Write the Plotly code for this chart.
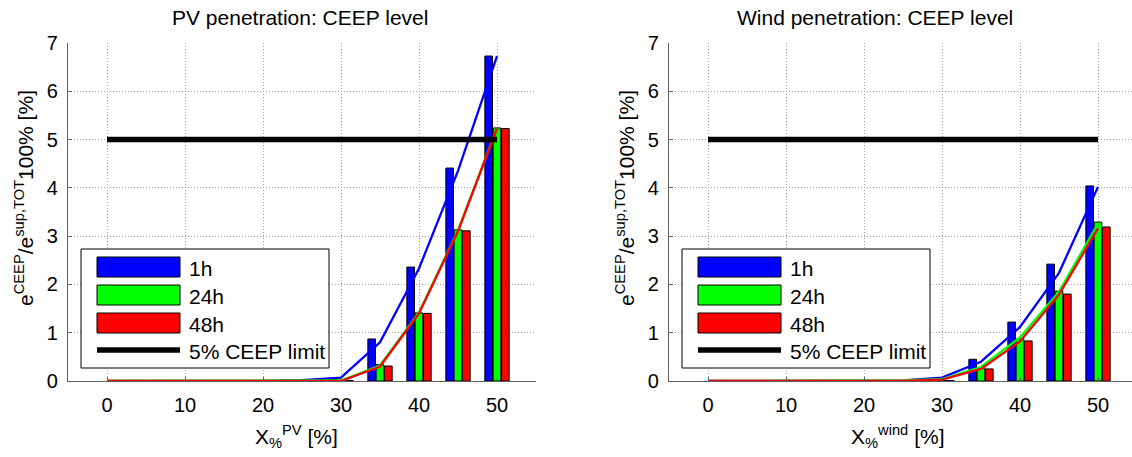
import plotly.graph_objects as go

W, H = 1132, 457

# ---------------- data ----------------
line_x = [0, 5, 10, 15, 20, 25, 30, 35, 40, 45, 50]
bar_x = [30, 35, 40, 45, 50]

pv_bar_1h = [0.03, 0.87, 2.36, 4.41, 6.73]
pv_bar_24h = [0.01, 0.34, 1.41, 3.13, 5.24]
pv_bar_48h = [0.01, 0.31, 1.40, 3.11, 5.23]
pv_line_1h = [0, 0, 0, 0, 0, 0.02, 0.07, 0.80, 2.33, 4.35, 6.73]
pv_line_24h = [0, 0, 0, 0, 0, 0, 0.01, 0.32, 1.42, 3.12, 5.24]
pv_line_48h = [0, 0, 0, 0, 0, 0, 0.0, 0.30, 1.40, 3.10, 5.23]

wind_bar_1h = [0.03, 0.45, 1.22, 2.42, 4.04]
wind_bar_24h = [0.01, 0.27, 0.87, 1.86, 3.29]
wind_bar_48h = [0.01, 0.25, 0.83, 1.80, 3.19]
wind_line_1h = [0, 0, 0, 0, 0, 0.01, 0.07, 0.40, 1.12, 2.24, 4.02]
wind_line_24h = [0, 0, 0, 0, 0, 0.01, 0.04, 0.29, 0.90, 1.85, 3.26]
wind_line_48h = [0, 0, 0, 0, 0, 0.0, 0.03, 0.25, 0.82, 1.79, 3.16]

limit_x = [0, 50]
limit_y = [5, 5]

series_names = ["1h", "24h", "48h"]
series_colors = ["#0000ff", "#00ff00", "#ff0000"]
limit_name = "5% CEEP limit"

titles = ["PV penetration: CEEP level", "Wind penetration: CEEP level"]
xtitles = ["X<sub>%</sub><sup>PV</sup> [%]", "X<sub>%</sub><sup>wind</sup> [%]"]
ytitle = "e<sup>CEEP</sup>/e<sup>sup,TOT</sup>100% [%]"
xtick_vals = [0, 10, 20, 30, 40, 50]
ytick_vals = [0, 1, 2, 3, 4, 5, 6, 7]

FONT = "Liberation Sans, Arial, sans-serif"
FS = 21


def px(p):
    return p / W


def py(p):
    return 1 - p / H


fig = go.Figure()

panels = [
    ("x", "y", [pv_bar_1h, pv_bar_24h, pv_bar_48h], [pv_line_1h, pv_line_24h, pv_line_48h]),
    ("x2", "y2", [wind_bar_1h, wind_bar_24h, wind_bar_48h], [wind_line_1h, wind_line_24h, wind_line_48h]),
]

for xa, ya, bars, lines in panels:
    for vals, col, name in zip(bars, series_colors, series_names):
        fig.add_trace(go.Bar(x=bar_x, y=vals, name=name, xaxis=xa, yaxis=ya,
                             marker=dict(color=col, line=dict(color="black", width=1)),
                             offsetgroup=name, showlegend=False))
    for vals, col, name in zip(lines, series_colors, series_names):
        fig.add_trace(go.Scatter(x=line_x, y=vals, mode="lines", xaxis=xa, yaxis=ya,
                                 line=dict(color=col, width=2.3), showlegend=False))
    fig.add_trace(go.Scatter(x=limit_x, y=limit_y, mode="lines", xaxis=xa, yaxis=ya,
                             line=dict(color="black", width=5.5), showlegend=False))

axis_common = dict(
    automargin=False,
    showgrid=True, gridcolor="#a0a0a0", griddash="1px,2px", gridwidth=1,
    showline=True, linecolor="#606060", linewidth=1.2,
    ticks="inside", ticklen=4, tickcolor="#606060",
    zeroline=False, tickfont=dict(size=FS - 1, color="black", family=FONT),
)

y_dom = [py(381), py(43)]
fig.update_layout(
    template="none",
    width=W, height=H,
    margin=dict(l=0, r=0, t=0, b=0, pad=0),
    paper_bgcolor="white", plot_bgcolor="white",
    barmode="group", bargap=0.36, bargroupgap=0.08,
    font=dict(family=FONT, size=FS, color="black"),
    xaxis=dict(domain=[px(68), px(536)], range=[-5, 55], tickvals=xtick_vals, anchor="y",
               ticklabelstandoff=6, **axis_common),
    yaxis=dict(domain=y_dom, range=[0, 7], tickvals=ytick_vals, anchor="x",
               ticklabelstandoff=5, **axis_common),
    xaxis2=dict(domain=[px(669), 1.0], range=[-5, (1132 - 708) / 7.8], tickvals=xtick_vals, anchor="y2",
                ticklabelstandoff=6, **axis_common),
    yaxis2=dict(domain=y_dom, range=[0, 7], tickvals=ytick_vals, anchor="x2",
                ticklabelstandoff=5, **axis_common),
    showlegend=False,
)

annotations = []
shapes = []
for i, (xoff, tcx) in enumerate([(0, 300), (601, 875)]):
    annotations.append(dict(x=px(tcx), y=py(18), xref="paper", yref="paper", text=titles[i],
                            showarrow=False, xanchor="center", yanchor="middle",
                            font=dict(size=FS, family=FONT)))
    annotations.append(dict(x=px(296 + xoff), y=py(436), xref="paper", yref="paper", text=xtitles[i],
                            showarrow=False, xanchor="center", yanchor="middle",
                            font=dict(size=FS, family=FONT)))
    annotations.append(dict(x=px(24 + xoff), y=py(198), xref="paper", yref="paper", text=ytitle,
                            showarrow=False, xanchor="center", yanchor="middle", textangle=-90,
                            font=dict(size=FS, family=FONT)))
    # custom legend
    bx0, bx1, by0, by1 = 81 + xoff, 329 + xoff, 249, 368
    shapes.append(dict(type="rect", xref="paper", yref="paper", x0=px(bx0), x1=px(bx1),
                       y0=py(by1), y1=py(by0), line=dict(color="black", width=1),
                       fillcolor="white", layer="above"))
    rows = [267, 295, 323, 350]
    for name, col, ry in zip(series_names, series_colors, rows[:3]):
        shapes.append(dict(type="rect", xref="paper", yref="paper", x0=px(97 + xoff), x1=px(180 + xoff),
                           y0=py(ry + 10), y1=py(ry - 10), line=dict(color="black", width=1),
                           fillcolor=col, layer="above"))
        annotations.append(dict(x=px(187 + xoff), y=py(ry + 1), xref="paper", yref="paper", text=name,
                                showarrow=False, xanchor="left", yanchor="middle",
                                font=dict(size=FS, family=FONT)))
    shapes.append(dict(type="line", xref="paper", yref="paper", x0=px(97 + xoff), x1=px(180 + xoff),
                       y0=py(rows[3]), y1=py(rows[3]), line=dict(color="black", width=5.5), layer="above"))
    annotations.append(dict(x=px(187 + xoff), y=py(rows[3] + 1), xref="paper", yref="paper", text=limit_name,
                            showarrow=False, xanchor="left", yanchor="middle",
                            font=dict(size=FS, family=FONT)))

fig.update_layout(annotations=annotations, shapes=shapes)
fig.write_html("out.html")
